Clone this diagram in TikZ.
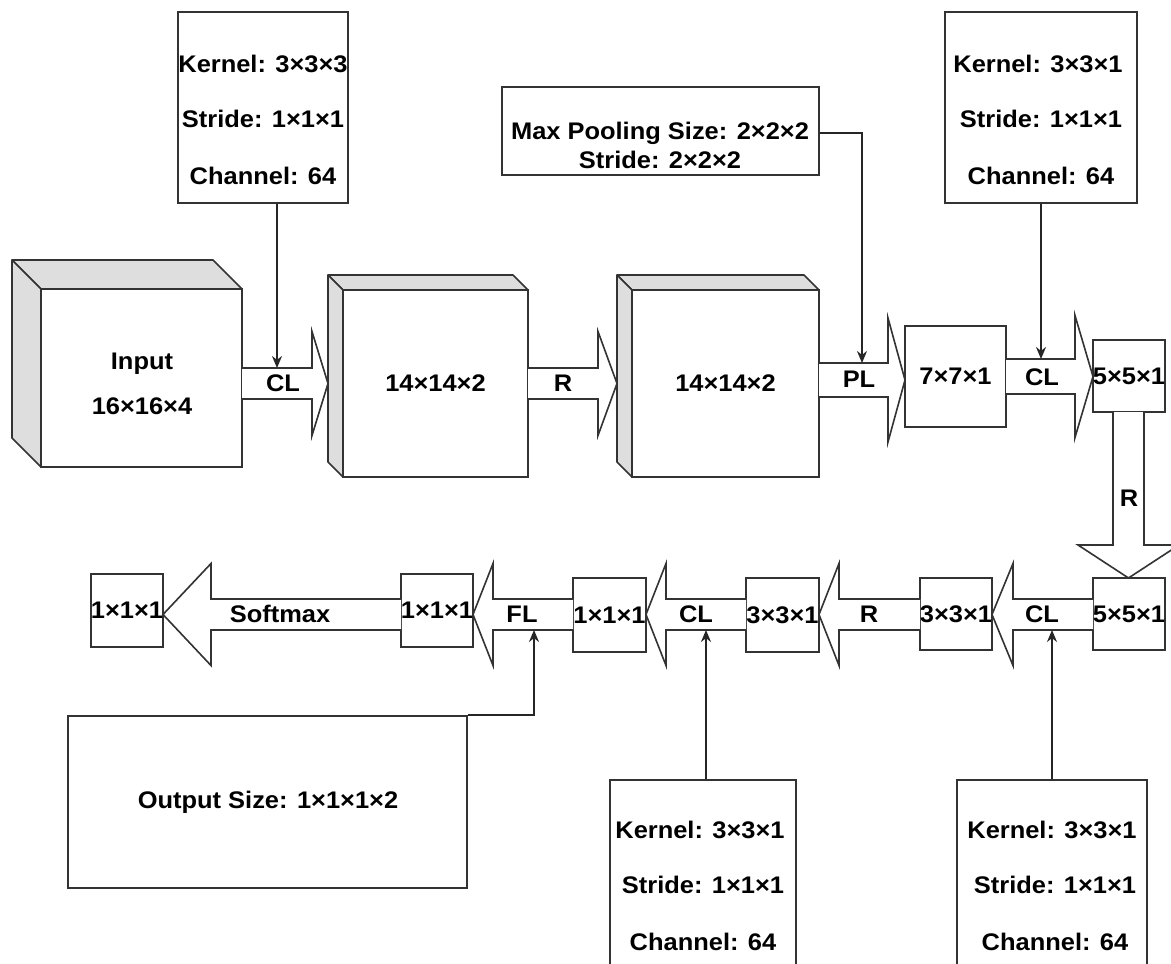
\documentclass[tikz,border=0pt]{standalone}
\usepackage{fontspec}
\setmainfont{Liberation Sans}[FakeStretch=1.06]
\usetikzlibrary{arrows.meta}
\newcommand\rbox[6]{\node[box, minimum width={#4-#2}, minimum height={#5-#3}] (#1) at ({(#2+#4)/2},{(#3+#5)/2}) {#6};}
\newcommand\cubebox[7]{%
  \draw[side] ({#2-#6},{#3-#6}) -- ({#4-#6},{#3-#6}) -- (#4,#3) -- (#2,#3) -- cycle;
  \draw[side] ({#2-#6},{#3-#6}) -- (#2,#3) -- (#2,#5) -- ({#2-#6},{#5-#6}) -- cycle;
  \rbox{#1}{#2}{#3}{#4}{#5}{#7}}
\newcommand\blockarr[6]{%
  \draw[blk] (#1,{#4-#5}) -- (#2,{#4-#5}) -- (#2,{#4-#6}) -- (#3,#4) -- (#2,{#4+#6}) -- (#2,{#4+#5}) -- (#1,{#4+#5});}
\begin{document}
\begin{tikzpicture}[x=1pt,y=-1pt,
  lab/.style={font=\bfseries\fontsize{24}{28}\selectfont, inner sep=0pt, text=black},
  box/.style={draw=black!80, fill=white, line width=1.6pt, inner sep=0pt, lab},
  blk/.style={draw=black!80, fill=white, line width=1.6pt, line join=miter},
  side/.style={draw=black!80, fill=black!13, line width=1.6pt, line join=round},
  con/.style={draw=black!85, line width=1.6pt, -{Stealth[length=12pt,width=10pt]}}]
\useasboundingbox (0,0) rectangle (1171,964);
\clip (0,0) rectangle (1171,964);
\fill[white] (0,0) rectangle (1171,964);

% ---------- top row cubes and boxes ----------
\cubebox{inp}{41}{289}{242}{467}{29}{}
\node[lab, align=center] (inpt) at (142,384) {Input\\[17pt]16×16×4};
\cubebox{c2}{343}{290}{528}{477}{15}{14×14×2}
\cubebox{c3}{632}{290}{819}{477}{15}{14×14×2}
\rbox{b771}{905}{326}{1006}{427}{7×7×1}
\rbox{b551}{1093}{340}{1165}{412}{5×5×1}

% top arrows
\blockarr{242}{312}{328}{383.5}{15.5}{52}
\node[lab] (aCL1) at (283,383) {CL};
\blockarr{528}{598}{617}{383.5}{15.5}{52}
\node[lab] (aR1) at (563,383) {R};
\blockarr{819}{888}{905}{380}{17}{62}
\node[lab] (aPL) at (859,379) {PL};
\blockarr{1006}{1075}{1093}{376.5}{17.5}{61}
\node[lab] (aCL2) at (1042,377) {CL};

% vertical arrow
\draw[blk] (1113,412) -- (1113,545) -- (1078,545) -- (1128.5,578) -- (1179,545) -- (1144,545) -- (1144,412);
\node[lab] (aR2) at (1129,498) {R};

% ---------- bottom row ----------
\rbox{b552}{1093}{578}{1165}{650}{5×5×1}
\rbox{b331a}{920}{578}{992}{650}{3×3×1}
\rbox{b331b}{746}{578}{819}{652}{3×3×1}
\rbox{b111a}{573}{578}{646}{652}{1×1×1}
\rbox{b111b}{401}{574}{473}{647}{1×1×1}
\rbox{b111c}{91}{574}{163}{647}{1×1×1}

\blockarr{1093}{1013}{992}{614.5}{15.5}{51}
\node[lab] (aCL3) at (1042,614) {CL};
\blockarr{920}{839}{819}{614.5}{15.5}{51}
\node[lab] (aR3) at (869,614) {R};
\blockarr{746}{666}{646}{614.5}{15.5}{51}
\node[lab] (aCL4) at (696,614) {CL};
\blockarr{573}{493}{473}{614.5}{15.5}{51}
\node[lab] (aFL) at (522,614) {FL};
\blockarr{401}{211}{163}{614.5}{15.5}{51}
\node[lab] (aSM) at (280,614) {Softmax};

% ---------- parameter boxes ----------
\rbox{k1}{178}{12}{348}{203}{}
\node[lab] (k1a) at (263,64) {Kernel: 3×3×3};
\node[lab] (k1b) at (263,119) {Stride: 1×1×1};
\node[lab] (k1c) at (263,176) {Channel: 64};

\rbox{k2}{945}{12}{1137}{203}{}
\node[lab] (k2a) at (1038,64) {Kernel: 3×3×1};
\node[lab] (k2b) at (1041,119) {Stride: 1×1×1};
\node[lab] (k2c) at (1041,176) {Channel: 64};

\rbox{mp}{502}{87}{819}{175}{}
\node[lab] (mpa) at (660,133) {Max Pooling Size: 2×2×2};
\node[lab] (mpb) at (660,160) {Stride: 2×2×2};

\rbox{k3}{610}{780}{796}{1000}{}
\node[lab] (k3a) at (700,830) {Kernel: 3×3×1};
\node[lab] (k3b) at (703,885) {Stride: 1×1×1};
\node[lab] (k3c) at (703,942) {Channel: 64};

\rbox{k4}{957}{780}{1147}{1000}{}
\node[lab] (k4a) at (1052,830) {Kernel: 3×3×1};
\node[lab] (k4b) at (1055,885) {Stride: 1×1×1};
\node[lab] (k4c) at (1055,942) {Channel: 64};

\rbox{out}{68}{716}{467}{888}{}
\node[lab] (outa) at (268,802) {Output Size: 1×1×1×2};

% ---------- connectors ----------
\coordinate (t1) at (277,368);
\coordinate (t2) at (1041,359);
\coordinate (t3) at (862,363);
\coordinate (t4) at (706,630);
\coordinate (t5) at (1052,630);
\coordinate (t6) at (534,630);
\draw[con] (k1.south -| t1) -- (t1);
\draw[con] (k2.south -| t2) -- (t2);
\draw[con] (mp.east |- mpa) -| (t3);
\draw[con] (k3.north -| t4) -- (t4);
\draw[con] (k4.north -| t5) -- (t5);
\draw[con] (out.north east) -| (t6);
\end{tikzpicture}
\end{document}
